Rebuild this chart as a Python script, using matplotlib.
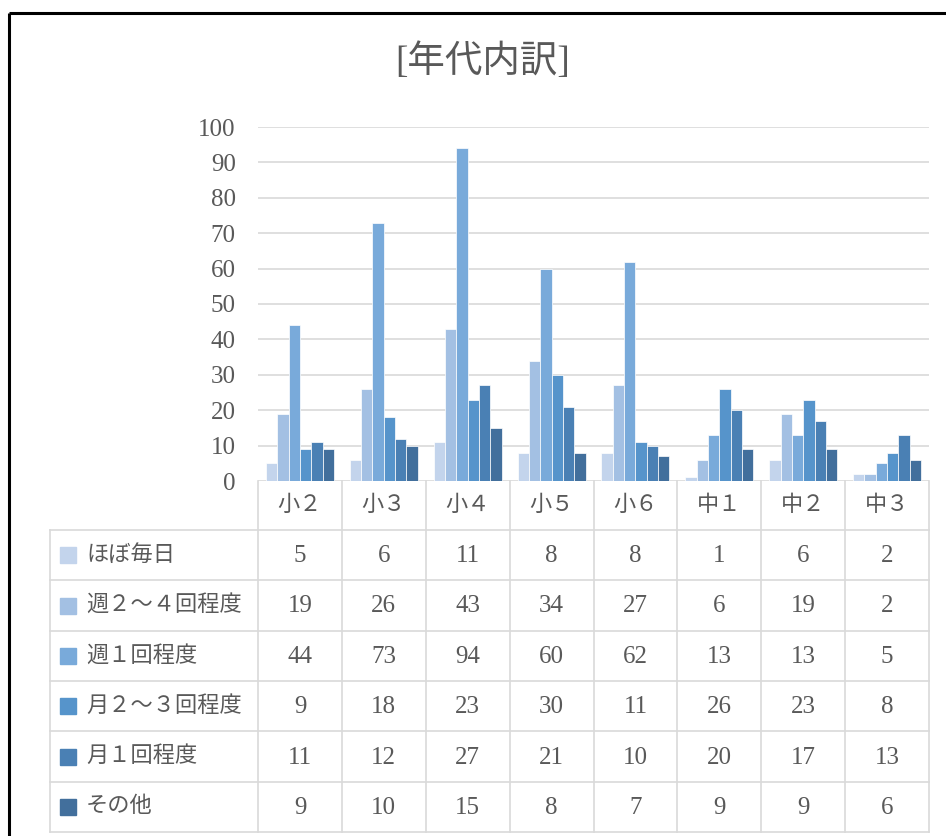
import matplotlib
matplotlib.use('Agg')
import matplotlib.pyplot as plt
from matplotlib.patches import Rectangle
import numpy as np

plt.rcParams['font.family'] = ['Liberation Serif', 'Noto Sans CJK JP']

# ---- data ----
grades = ['小２', '小３', '小４', '小５', '小６', '中１', '中２', '中３']
series_names = ['ほぼ毎日', '週２～４回程度', '週１回程度', '月２～３回程度', '月１回程度', 'その他']
almost_daily = [5, 6, 11, 8, 8, 1, 6, 2]
weekly_2_4 = [19, 26, 43, 34, 27, 6, 19, 2]
weekly_1 = [44, 73, 94, 60, 62, 13, 13, 5]
monthly_2_3 = [9, 18, 23, 30, 11, 26, 23, 8]
monthly_1 = [11, 12, 27, 21, 10, 20, 17, 13]
other = [9, 10, 15, 8, 7, 9, 9, 6]
series = [almost_daily, weekly_2_4, weekly_1, monthly_2_3, monthly_1, other]
colors = ['#C3D4EC', '#A3C0E3', '#79AADA', '#5694CB', '#4A80B4', '#426F9C']

TXT = '#595959'
GRID = '#D9D9D9'
NUM_FS = 18     # digits
CJK_FS = 16     # japanese labels
W, H = 946, 836

def px(x0, y0, x1, y1):
    return [x0 / W, 1 - y1 / H, (x1 - x0) / W, (y1 - y0) / H]

fig = plt.figure(figsize=(W / 100, H / 100), dpi=100)

# table / frame layer (pixel coords)
tab = fig.add_axes([0, 0, 1, 1])
tab.set_xlim(0, W)
tab.set_ylim(H, 0)
tab.axis('off')

# ---- bar chart ----
ax = fig.add_axes(px(258, 127, 929, 481))
ax.patch.set_alpha(0)
x = np.arange(len(grades))
bw = 0.135
for i, (vals, c) in enumerate(zip(series, colors)):
    ax.bar(x + (i - 2.5) * bw, vals, bw, color=c, edgecolor='white', linewidth=0.5, zorder=3)
ax.set_xlim(-0.5, len(grades) - 0.5)
ax.set_ylim(0, 100)
ax.set_yticks(range(0, 101, 10))
ax.yaxis.grid(True, color=GRID, lw=1.2, zorder=0)
ax.set_xticks([])
for s in ax.spines.values():
    s.set_visible(False)
ax.tick_params(axis='y', length=0, pad=16, labelsize=NUM_FS, labelcolor=TXT)

# ---- data table ----
col_edges = np.linspace(258, 929, len(grades) + 1)
row_edges = np.linspace(530, 832, len(series) + 1)
col_mid = (col_edges[:-1] + col_edges[1:]) / 2
row_mid = (row_edges[:-1] + row_edges[1:]) / 2

for xe in col_edges:
    tab.plot([xe, xe], [481, 832], color=GRID, lw=1.2)
tab.plot([50, 50], [530, 832], color=GRID, lw=1.2)
for ye in row_edges:
    tab.plot([50, 929], [ye, ye], color=GRID, lw=1.2)

for xc, g in zip(col_mid, grades):
    tab.text(xc, 505.5, g, ha='center', va='center', fontsize=CJK_FS, color=TXT)

for yc, name, vals, c in zip(row_mid, series_names, series, colors):
    tab.add_patch(Rectangle((60, yc - 8), 16, 16, color=c))
    tab.text(86, yc, name, ha='left', va='center', fontsize=CJK_FS, color=TXT)
    for xc, v in zip(col_mid, vals):
        tab.text(xc, yc + 1, str(v), ha='center', va='center', fontsize=NUM_FS, color=TXT)

# frame + title
tab.plot([8.5, W], [13, 13], color='black', lw=2.2, solid_capstyle='butt')
tab.plot([8.5, 8.5], [13, H], color='black', lw=2.2, solid_capstyle='butt')
tab.text(483, 62, '[年代内訳]', ha='center', va='center', fontsize=27, color=TXT)

plt.savefig('out.png', dpi=100)
plt.close()
